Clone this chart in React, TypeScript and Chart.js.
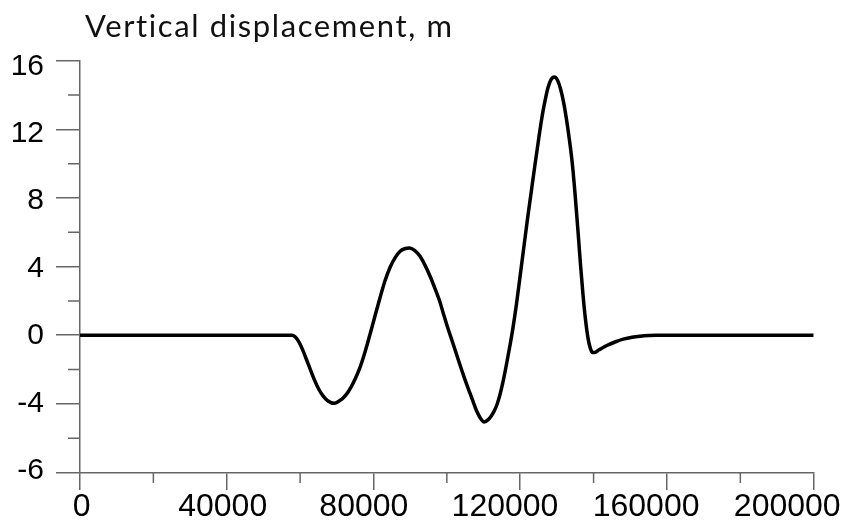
import React, { useEffect, useRef } from "react";
import { Chart, registerables } from "chart.js";

Chart.register(...registerables);

// Distance along profile (m)
const distance = [
  0, 20000, 40000, 55000, 57700, 58700, 59700, 60700, 61700, 62800, 63900, 65100,
  66300, 67600, 69300, 71400, 72600, 73800, 75000, 76200, 77300, 78400, 79500,
  80700, 81800, 83100, 84500, 86000, 87200, 88500, 89800, 91200, 92700, 94000,
  95400, 96800, 98100, 99000, 100000, 101700, 103300, 104800, 106300, 107300,
  108100, 109200, 110200, 111300, 112200, 112900, 113700, 114500, 115400, 116300,
  117200, 118000, 119000, 120000, 121000, 122000, 123000, 124000, 125000, 126000,
  126800, 127600, 128400, 129300, 130200, 131000, 131800, 132600, 133400, 134200,
  135000, 135700, 136400, 137100, 137800, 138500, 139100, 139700, 140300, 141500,
  143600, 146000, 148100, 150500, 152700, 155000, 157000, 170000, 185000, 200000,
];
// Vertical displacement (m)
const displacement = [
  0, 0, 0, 0, 0, -0.1, -0.4, -0.85, -1.4, -2.0, -2.6, -3.15,
  -3.55, -3.83, -3.97, -3.72, -3.45, -3.05, -2.55, -1.95, -1.25, -0.45, 0.4,
  1.35, 2.2, 3.15, 3.95, 4.55, 4.88, 5.04, 5.08, 4.95, 4.6, 4.1,
  3.45, 2.7, 1.95, 1.3, 0.6, -0.5, -1.55, -2.5, -3.38, -3.95,
  -4.4, -4.85, -5.05, -4.92, -4.68, -4.42, -4.02, -3.45, -2.62, -1.65,
  -0.6, 0.4, 1.85, 3.5, 5.15, 6.8, 8.35, 9.9, 11.4, 12.8,
  13.7, 14.45, 14.9, 15.05, 14.85, 14.35, 13.6, 12.6, 11.4, 10.0,
  8.1, 6.2, 4.2, 2.4, 0.9, -0.2, -0.75, -1.0, -1.0, -0.85,
  -0.6, -0.38, -0.23, -0.12, -0.06, -0.02, 0, 0, 0, 0,
];

const titleText = "Vertical displacement, m";

const yMajorTicks = [-8, -4, 0, 4, 8, 12, 16];
const yTickLabels = ["-6", "-4", "0", "4", "8", "12", "16"];
const yMinorTicks = [-6, -2, 2, 6, 10, 14];

const xMajorTicks = [0, 40000, 80000, 120000, 160000, 200000];
const xTickLabels = ["0", "40000", "80000", "120000", "160000", "200000"];
const xMinorTicks = [20000, 60000, 100000, 140000, 180000];

const AXIS = "#666666";
const AXIS_W = 1.5;
const Y_TICK_FONT = { family: "'Liberation Sans', Arial, sans-serif", size: 30, lineHeight: 1.2 };
const X_TICK_FONT = { family: "'Liberation Sans', Arial, sans-serif", size: 32, lineHeight: 1.1 };

const decorPlugin = {
  id: "decor",
  afterDraw(chart: any) {
    const ctx = chart.ctx;
    const { left, bottom } = chart.chartArea;
    const xs = chart.scales.x;
    const ys = chart.scales.y;
    ctx.save();
    ctx.strokeStyle = AXIS;
    ctx.lineWidth = AXIS_W;
    ctx.beginPath();
    for (const v of yMinorTicks) {
      const py = ys.getPixelForValue(v);
      ctx.moveTo(left - 12, py);
      ctx.lineTo(left, py);
    }
    for (const v of xMinorTicks) {
      const px = xs.getPixelForValue(v);
      ctx.moveTo(px, bottom);
      ctx.lineTo(px, bottom + 10.5);
    }
    ctx.stroke();
    ctx.fillStyle = "#111111";
    ctx.font = "31px Lato, 'Open Sans', sans-serif";
    try {
      (ctx as any).letterSpacing = "1.6px";
    } catch (e) {}
    ctx.textBaseline = "alphabetic";
    ctx.textAlign = "left";
    ctx.fillText(titleText, left + 5, 37);
    ctx.restore();
  },
};

export default function App() {
  const canvasRef = useRef<HTMLCanvasElement | null>(null);

  useEffect(() => {
    if (!canvasRef.current) return;
    const points = distance.map((d, i) => ({ x: d, y: displacement[i] }));
    const chart = new Chart(canvasRef.current, {
      type: "line",
      data: {
        datasets: [
          {
            data: points,
            borderColor: "#000000",
            borderWidth: 3.5,
            pointRadius: 0,
            fill: false,
            cubicInterpolationMode: "monotone",
            xAxisID: "x",
            yAxisID: "y",
          },
        ],
      },
      options: {
        responsive: false,
        animation: false,
        layout: { padding: { top: 60.7, right: 31.3, left: 0, bottom: 0 } },
        plugins: { legend: { display: false }, tooltip: { enabled: false }, title: { display: false } },
        scales: {
          x: {
            type: "linear",
            position: "bottom",
            weight: 0,
            min: 0,
            max: 200000,
            afterBuildTicks: (s: any) => {
              s.ticks = xMajorTicks.map((value) => ({ value }));
            },
            afterFit: (s: any) => {
              s.height = 17.5;
            },
            ticks: { display: false },
            grid: { drawOnChartArea: false, drawTicks: true, tickLength: 17.5, color: AXIS, lineWidth: AXIS_W },
            border: { display: true, color: AXIS, width: AXIS_W },
          },
          xl: {
            type: "linear",
            position: "bottom",
            weight: 1,
            min: -450,
            max: 207500,
            afterBuildTicks: (s: any) => {
              s.ticks = xMajorTicks.map((value) => ({ value }));
            },
            afterFit: (s: any) => {
              s.height = 34;
            },
            ticks: {
              autoSkip: false,
              maxRotation: 0,
              padding: 0,
              color: "#000000",
              font: X_TICK_FONT,
              callback: (value: any) => {
                const i = xMajorTicks.indexOf(Number(value));
                return i >= 0 ? xTickLabels[i] : "";
              },
            },
            grid: { display: false, drawTicks: false },
            border: { display: false },
          },
          y: {
            type: "linear",
            position: "left",
            weight: 0,
            min: -8,
            max: 16,
            afterBuildTicks: (s: any) => {
              s.ticks = yMajorTicks.map((value) => ({ value }));
            },
            afterFit: (s: any) => {
              s.width = 24;
            },
            ticks: { display: false },
            grid: { drawOnChartArea: false, drawTicks: true, tickLength: 24, color: AXIS, lineWidth: AXIS_W },
            border: { display: true, color: AXIS, width: AXIS_W },
          },
          yl: {
            type: "linear",
            position: "left",
            weight: 1,
            min: -8.1,
            max: 16.33,
            afterBuildTicks: (s: any) => {
              s.ticks = yMajorTicks.map((value) => ({ value }));
            },
            afterFit: (s: any) => {
              s.width = 56;
            },
            ticks: {
              autoSkip: false,
              padding: 12,
              color: "#000000",
              font: Y_TICK_FONT,
              callback: (value: any) => {
                const i = yMajorTicks.indexOf(Number(value));
                return i >= 0 ? yTickLabels[i] : "";
              },
            },
            grid: { display: false, drawTicks: false },
            border: { display: false },
          },
        },
      },
      plugins: [decorPlugin],
    });
    return () => chart.destroy();
  }, []);

  return (
    <div style={{ position: "absolute", left: 0, top: 0, width: 845, height: 524, background: "#ffffff" }}>
      <canvas ref={canvasRef} width={845} height={524} style={{ display: "block" }} />
    </div>
  );
}
